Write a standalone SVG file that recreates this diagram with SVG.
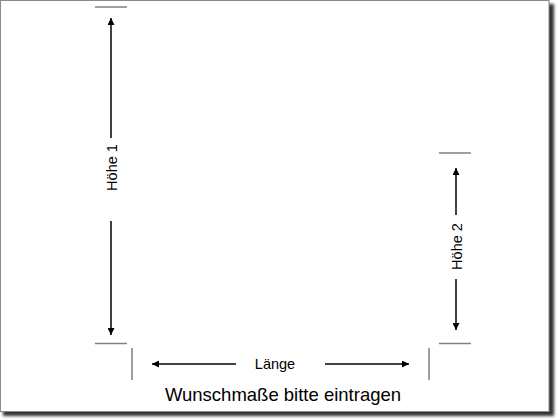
<svg xmlns="http://www.w3.org/2000/svg" width="560" height="420" viewBox="0 0 560 420">
  <defs>
    <filter id="blur" x="-5%" y="-5%" width="110%" height="110%">
      <feGaussianBlur stdDeviation="1.6"/>
    </filter>
    <marker id="ah" viewBox="0 0 10 10" refX="10" refY="5" markerWidth="7" markerHeight="7" markerUnits="userSpaceOnUse" orient="auto">
      <path d="M0,0 L10,5 L0,10 z" fill="#000"/>
    </marker>
    <style>
      .tick { stroke: #808080; stroke-width: 1.5; fill: none; }
      .arr { stroke: #000; stroke-width: 1.5; fill: none; }
      .lbl { font-family: "Liberation Sans", Arial, sans-serif; font-size: 14.5px; fill: #000; text-anchor: middle; }
      .title { font-family: "Liberation Sans", Arial, sans-serif; font-size: 18.5px; fill: #000; text-anchor: middle; }
    </style>
  </defs>
  <rect width="560" height="420" fill="#fff"/>
  <g id="page">
    <rect x="3" y="4" width="551" height="412" fill="#333" filter="url(#blur)"/>
    <rect x="0.5" y="0.5" width="548.5" height="411" fill="#fff" stroke="#8a8a8a" stroke-width="1"/>
  </g>
  <g id="connectors">
    <line class="arr" x1="111" y1="138" x2="111" y2="18" marker-end="url(#ah)"/>
    <line class="arr" x1="111" y1="221" x2="111" y2="335" marker-end="url(#ah)"/>
    <line class="arr" x1="456" y1="215" x2="456" y2="168" marker-end="url(#ah)"/>
    <line class="arr" x1="456" y1="279" x2="456" y2="330" marker-end="url(#ah)"/>
    <line class="arr" x1="236" y1="364" x2="152" y2="364" marker-end="url(#ah)"/>
    <line class="arr" x1="325" y1="364" x2="409" y2="364" marker-end="url(#ah)"/>
  </g>
  <g id="ticks">
    <line class="tick" x1="95" y1="7" x2="127" y2="7"/>
    <line class="tick" x1="95" y1="343.5" x2="127" y2="343.5"/>
    <line class="tick" x1="132" y1="348" x2="132" y2="380"/>
    <line class="tick" x1="429" y1="348" x2="429" y2="380"/>
    <line class="tick" x1="439" y1="153" x2="471" y2="153"/>
    <line class="tick" x1="439" y1="343.5" x2="471" y2="343.5"/>
  </g>
  <g id="hoehe1">
    <text class="lbl" transform="translate(116.5,167.5) rotate(-90)">Höhe 1</text>
  </g>
  <g id="hoehe2">
    <text class="lbl" transform="translate(461.5,246.5) rotate(-90)">Höhe 2</text>
  </g>
  <g id="laenge">
    <text class="lbl" x="275" y="369">Länge</text>
  </g>
  <g id="titel">
    <text class="title" x="283" y="401">Wunschmaße bitte eintragen</text>
  </g>
</svg>
